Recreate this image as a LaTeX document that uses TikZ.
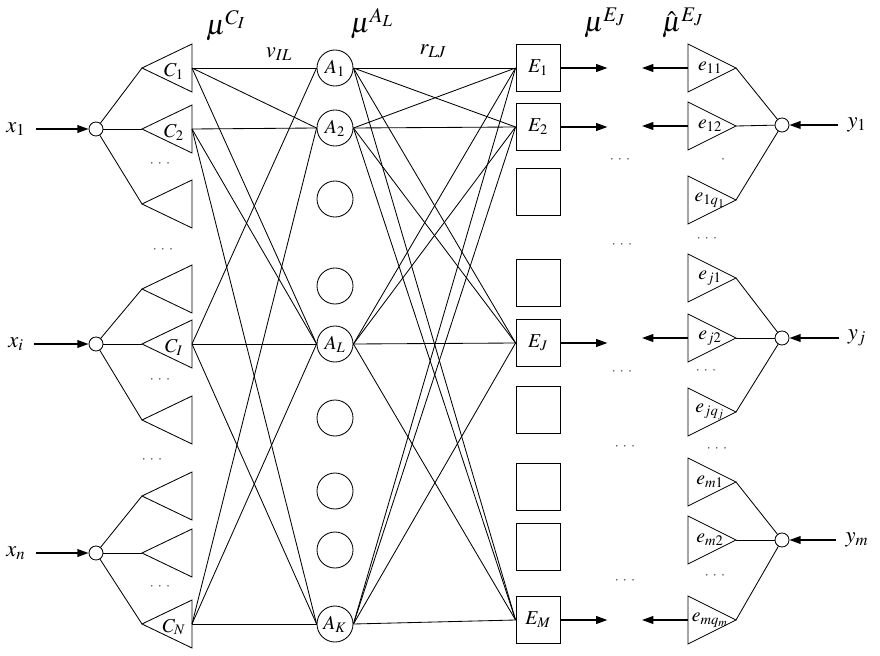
\documentclass[tikz,border=0pt]{standalone}
\usepackage{mathptmx}
\usetikzlibrary{positioning,arrows.meta}

\begin{document}
\begin{tikzpicture}[x=0.025cm, y=-0.025cm, font=\fontsize{14}{16}\selectfont, line width=0.6pt,
  neuron/.style={circle, draw, minimum size=0.9cm, inner sep=0pt},
  rulebox/.style={rectangle, draw, minimum width=1.1cm, minimum height=1.175cm, inner sep=0pt},
  hub/.style={circle, draw, minimum size=0.35cm, inner sep=0pt},
  feed/.style={line width=1.1pt, -{Triangle[length=8pt,width=5.5pt]}},
  gap/.style={font=\fontsize{9}{10}\selectfont, inner sep=1pt},
  head/.style={font=\fontsize{20}{22}\selectfont, inner sep=0pt}]
\useasboundingbox (0,0) rectangle (880,656);

% left: input fuzzy sets
\foreach \n/\y in {1/68, 2/129, 3/204, 4/289, 5/344, 6/420, 7/496, 8/553, 9/624}{
  \draw (192,\y-24) -- (142,\y) -- (192,\y+24) -- cycle;
  \coordinate (c\n-in) at (142,\y);
  \coordinate (c\n) at (192,\y);
}
\node (c1-lab) at (174,71) {$C_1$};
\node (c2-lab) at (174,132) {$C_2$};
\node (c5-lab) at (174,347) {$C_I$};
\node (c9-lab) at (174,627) {$C_N$};

\foreach \n/\y/\t/\a/\b/\c in {1/129/x_1/1/2/3, i/344/x_i/4/5/6, n/553/x_n/7/8/9}{
  \node[hub] (in\n) at (96,\y) {};
  \node[font=\fontsize{16}{18}\selectfont] (x\n) at (16,\y) {$\t$};
  \draw[feed, shorten <=4pt] (x\n) -- (in\n);
  \foreach \k in {\a,\b,\c} \draw (in\n) -- (c\k-in);
}

% middle: rule nodes
\foreach \n/\y/\t in {1/68/$A_1$, 2/128/$A_2$, 3/199/, 4/286/, 5/344/$A_L$, 6/418/, 7/491/, 8/550/, 9/624/$A_K$}
  \node[neuron] (a\n) at (335,\y) {\t};

% output fuzzy sets
\foreach \n/\y/\t in {1/68/$E_1$, 2/127/$E_2$, 3/192/, 4/283/, 5/343/$E_J$, 6/410/, 7/487/, 8/547/, 9/620/$E_M$}
  \node[rulebox] (e\n) at (538,\y) {\t};

% links
\foreach \i/\j in {1/1,1/2,1/5,2/2,2/5,2/9,5/1,5/5,5/9,9/2,9/5,9/9}
  \draw (c\i) -- (a\j.west);
\foreach \i in {1,2,5,9}
  \foreach \j in {1,2,5,9}
    \draw (a\i.east) -- (e\j.west);

\foreach \j in {1,2,5,9}
  \draw[feed] (e\j.east) -- ++(47,0) coordinate (o\j);

% right: desired output sets
\foreach \n/\y/\t in {1/68/11, 2/126/12, 3/200/1q_1, 4/278/j1, 5/338/j2, 6/412/jq_j, 7/482/m1, 8/540/m2, 9/620/mq_m}{
  \draw (688,\y-24) -- (736,\y) -- (688,\y+24) -- cycle;
  \coordinate (d\n) at (688,\y);
  \coordinate (d\n-out) at (736,\y);
  \node (d\n-lab) at (710,\y) {$e_{\t}$};
}
\foreach \j in {1,2,5,9}
  \draw[feed] (d\j) -- ++(-46,0) coordinate (back\j);

\foreach \n/\y/\t/\a/\b/\c in {1/125/y_1/1/2/3, j/338/y_j/4/5/6, m/540/y_m/7/8/9}{
  \node[hub] (out\n) at (782,\y) {};
  \node[font=\fontsize{16}{18}\selectfont] (y\n) at (857,\y) {$\t$};
  \draw[feed, shorten <=3pt] (y\n) -- (out\n);
  \foreach \k in {\a,\b,\c} \draw (out\n) -- (d\k-out);
}

% gaps
\node[gap] (gl1) at (160,164) {$\cdot\;\cdot\;\cdot$};
\node[gap] (gl2) at (163,250) {$\cdot\;\cdot\;\cdot$};
\node[gap] (gl3) at (160,380) {$\cdot\;\cdot\;\cdot$};
\node[gap] (gl4) at (152,460) {$\cdot\;\cdot\;\cdot$};
\node[gap] (gl5) at (160,587) {$\cdot\;\cdot\;\cdot$};
\node[gap] (gm1) at (620,160) {$\cdot\;\cdot\;\cdot$};
\node[gap] (gm2) at (622,245) {$\cdot\;\cdot\;\cdot$};
\node[gap] (gm3) at (622,372) {$\cdot\;\cdot\;\cdot$};
\node[gap] (gm4) at (625,447) {$\cdot\;\cdot\;\cdot$};
\node[gap] (gm5) at (625,581) {$\cdot\;\cdot\;\cdot$};
\node[gap] (gr1) at (723,160) {$\cdot$};
\node[gap] (gr2) at (707,239) {$\cdot\;\cdot\;\cdot$};
\node[gap] (gr3) at (706,371) {$\cdot\;\cdot\;\cdot$};
\node[gap] (gr4) at (717,449) {$\cdot\;\cdot\;\cdot$};
\node[gap] (gr5) at (715,576) {$\cdot\;\cdot\;\cdot$};

% headings
\node[head] (muC) at (226,26) {$\mu^{C_I}$};
\node[font=\fontsize{16}{18}\selectfont] (vIL) at (279,54) {$v_{IL}$};
\node[head] (muA) at (372,24) {$\mu^{A_L}$};
\node[font=\fontsize{16}{18}\selectfont] (rLJ) at (433,51) {$r_{LJ}$};
\node[head] (muE) at (605,23) {$\mu^{E_J}$};
\node[head] (muEhat) at (683,23) {$\hat{\mu}^{E_J}$};
\end{tikzpicture}
\end{document}
